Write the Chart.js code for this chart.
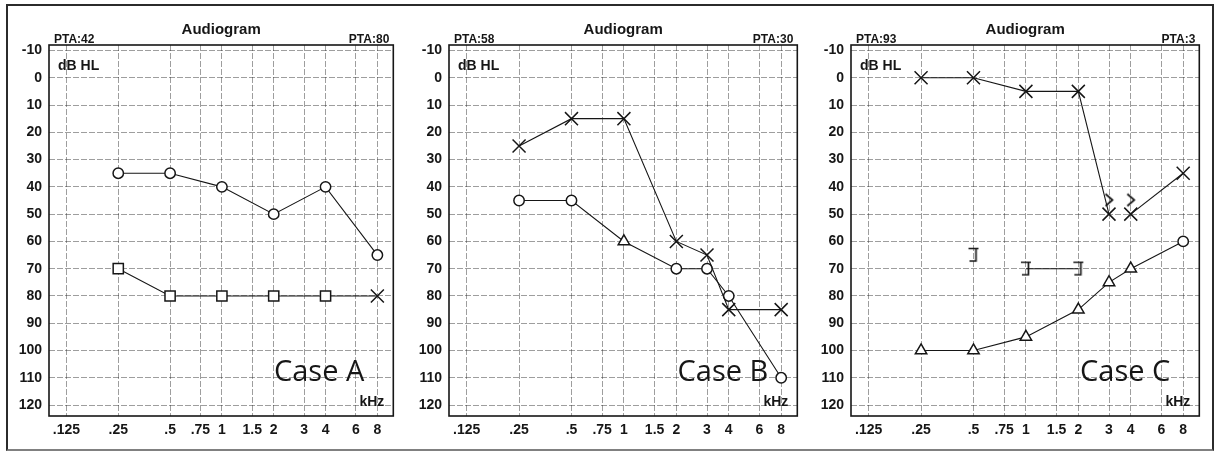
<!DOCTYPE html>
<html>
<head>
<meta charset="utf-8">
<title>Audiograms</title>
<script src="https://cdn.jsdelivr.net/npm/chart.js@4.4.0/dist/chart.umd.min.js"></script>
<style>
  html, body { margin: 0; padding: 0; background: #fff; }
  #page { position: relative; width: 1215px; height: 453px; overflow: hidden; }
  #frame {
    position: absolute; left: 6px; top: 4px; width: 1208px; height: 447px;
    box-sizing: border-box; border: 2px solid #2b2b2b; border-bottom-color: #808080;
  }
  canvas { position: absolute; top: 6px; }
</style>
</head>
<body>
<div id="page">
  <div id="frame"></div>
  <canvas id="case-a" width="396" height="440" style="left:8px"></canvas>
  <canvas id="case-b" width="402" height="440" style="left:406px"></canvas>
  <canvas id="case-c" width="402" height="440" style="left:808px"></canvas>
</div>
<script>
/* ----------------------------
   AXES (shared by all three audiograms)
   ---------------------------- */
var FREQ_TICKS  = [0.125, 0.25, 0.5, 0.75, 1, 1.5, 2, 3, 4, 6, 8];
var FREQ_LABELS = [".125", ".25", ".5", ".75", "1", "1.5", "2", "3", "4", "6", "8"];
var DB_TICKS    = [-10, 0, 10, 20, 30, 40, 50, 60, 70, 80, 90, 100, 110, 120];

/* ----------------------------
   CASE A
   ---------------------------- */
var A_FREQS     = [0.25, 0.5, 1, 2, 4, 8];
var A_RIGHT_AIR = [35, 35, 40, 50, 40, 65];
var A_MASKED    = [70, 80, 80, 80, 80, 80];
var A_MASKED_MARKS = ["rect", "rect", "rect", "rect", "rect", "crossRot"];
var A_PTA = ["PTA:42", "PTA:80"];

/* ----------------------------
   CASE B
   ---------------------------- */
var B_FREQS    = [0.25, 0.5, 1, 2, 3, 4, 8];
var B_LEFT_AIR = [25, 15, 15, 60, 65, 85, 85];
var B_RIGHT    = [45, 45, 60, 70, 70, 80, 110];
var B_RIGHT_MARKS = ["circle", "circle", "triangle", "circle", "circle", "circle", "circle"];
var B_PTA = ["PTA:58", "PTA:30"];

/* ----------------------------
   CASE C
   ---------------------------- */
var C_FREQS    = [0.25, 0.5, 1, 2, 3, 4, 8];
var C_LEFT_AIR = [0, 0, 5, 5, 50, 50, 35];
var C_LEFT_AIR_GAPS = [4];            // no line between 3 and 4 kHz
var C_BONE_FREQS = [3, 4];
var C_LEFT_BONE  = [45, 45];
var C_MASKED_BONE_FREQS = [0.5, 1, 2];
var C_MASKED_BONE = [65, 70, 70];
var C_MASKED_BONE_GAPS = [0];         // .5 kHz stands alone
var C_RIGHT = [100, 100, 95, 85, 75, 70, 60];
var C_RIGHT_MARKS = ["triangle", "triangle", "triangle", "triangle", "triangle", "triangle", "circle"];
var C_PTA = ["PTA:93", "PTA:3"];

var INK = "#161616";
var GRID = "rgba(40, 40, 40, 0.45)";
var SANS = "'Liberation Sans', Arial, sans-serif";

Chart.defaults.font.family = SANS;
Chart.defaults.color = INK;

// marker radius for each built-in point style
var MARK_SIZE = { circle: 5.2, rect: 7.2, crossRot: 9.2, triangle: 6.6 };

/* ----------------------------
   Hand-drawn symbols: ">" and "]"
   ---------------------------- */
function makeGlyph(w, h, draw) {
  var c = document.createElement("canvas");
  c.width = w;
  c.height = h;
  var g = c.getContext("2d");
  g.strokeStyle = INK;
  g.lineWidth = 1.7;
  g.lineJoin = "miter";
  g.beginPath();
  draw(g);
  g.stroke();
  return c;
}

var boneGlyph = makeGlyph(12, 16, function (g) {
  g.moveTo(2.5, 1.5); g.lineTo(9.5, 7.5); g.lineTo(2.5, 13.5);
});

var bracketGlyph = makeGlyph(14, 16, function (g) {
  g.moveTo(2, 1.5); g.lineTo(12, 1.5);
  g.moveTo(9.5, 1.5); g.lineTo(9.5, 14);
  g.lineTo(3, 14);
});

/* ----------------------------
   Dataset helper
   ---------------------------- */
function series(freqs, values, marks, gaps, noLine) {
  var styles = Array.isArray(marks) ? marks : freqs.map(function () { return marks; });
  return {
    data: freqs.map(function (f, i) { return { x: f, y: values[i] }; }),
    showLine: !noLine,
    borderColor: INK,
    borderWidth: 1.1,
    pointStyle: styles,
    pointRadius: styles.map(function (s) { return MARK_SIZE[s] || 6; }),
    pointBackgroundColor: "#ffffff",
    pointBorderColor: INK,
    pointBorderWidth: 1.5,
    segment: {
      borderColor: function (ctx) {
        return gaps && gaps.indexOf(ctx.p0DataIndex) >= 0 ? "rgba(0,0,0,0)" : undefined;
      }
    }
  };
}

/* ----------------------------
   Frame, headings and labels drawn around each plot
   ---------------------------- */
var panelText = {
  id: "panelText",
  beforeDatasetsDraw: function (chart) {
    var ctx = chart.ctx, a = chart.chartArea;
    ctx.save();
    ctx.strokeStyle = INK;
    ctx.lineWidth = 1.6;
    ctx.strokeRect(a.left, a.top, a.right - a.left, a.bottom - a.top);
    ctx.restore();
  },
  afterDraw: function (chart, args, opts) {
    var ctx = chart.ctx, a = chart.chartArea;
    ctx.save();
    ctx.fillStyle = INK;
    ctx.textBaseline = "alphabetic";

    ctx.font = "bold 15px " + SANS;
    ctx.textAlign = "center";
    ctx.fillText("Audiogram", (a.left + a.right) / 2, a.top - 11);

    ctx.font = "bold 12px " + SANS;
    ctx.textAlign = "left";
    ctx.fillText(opts.pta[0], a.left + 5, a.top - 2);
    ctx.textAlign = "right";
    ctx.fillText(opts.pta[1], a.right - 4, a.top - 2);

    ctx.font = "bold 14px " + SANS;
    ctx.textAlign = "left";
    ctx.fillText("dB HL", a.left + 9, a.top + 25);
    ctx.textAlign = "right";
    ctx.fillText("kHz", a.right - 9, a.bottom - 10);

    ctx.font = "29px 'Open Sans', 'Noto Sans', sans-serif";
    ctx.textAlign = "right";
    ctx.fillText(opts.caseLabel, a.right - 29, a.bottom - 35);
    ctx.restore();
  }
};

function drawAudiogram(id, datasets, pta, caseLabel, padLeft, padRight) {
  var canvas = document.getElementById(id);
  if (!canvas) { return null; }

  return new Chart(canvas.getContext("2d"), {
    type: "scatter",
    data: { datasets: datasets },
    plugins: [panelText],
    options: {
      responsive: false,
      animation: false,
      events: [],
      layout: { padding: { top: 39, left: padLeft, right: padRight, bottom: 0 } },
      plugins: {
        legend: { display: false },
        tooltip: { enabled: false },
        panelText: { pta: pta, caseLabel: caseLabel }
      },
      scales: {
        x: {
          type: "logarithmic",
          min: 0.099,
          max: 9.9,
          afterBuildTicks: function (axis) {
            axis.ticks = FREQ_TICKS.map(function (v) { return { value: v }; });
          },
          afterFit: function (axis) { axis.height = 30; },
          grid: { color: GRID, lineWidth: 1, drawTicks: false },
          border: { display: false, dash: [6, 2] },
          ticks: {
            autoSkip: false,
            maxRotation: 0,
            minRotation: 0,
            padding: 6,
            color: INK,
            font: { size: 14, weight: "bold" },
            callback: function (v, i) { return FREQ_LABELS[i]; }
          }
        },
        y: {
          type: "linear",
          reverse: true,
          min: -12,
          max: 124,
          afterBuildTicks: function (axis) {
            axis.ticks = DB_TICKS.map(function (v) { return { value: v }; });
          },
          afterFit: function (axis) { axis.width = 41; },
          grid: { color: GRID, lineWidth: 1, drawTicks: false },
          border: { display: false, dash: [6, 2] },
          ticks: {
            padding: 7,
            color: INK,
            font: { size: 14, weight: "bold" }
          }
        }
      }
    }
  });
}

drawAudiogram("case-a", [
  series(A_FREQS, A_RIGHT_AIR, "circle"),
  series(A_FREQS, A_MASKED, A_MASKED_MARKS)
], A_PTA, "Case A", 0, 2);

drawAudiogram("case-b", [
  series(B_FREQS, B_LEFT_AIR, "crossRot"),
  series(B_FREQS, B_RIGHT, B_RIGHT_MARKS)
], B_PTA, "Case B", 2, 3);

var cBone = series(C_BONE_FREQS, C_LEFT_BONE, "bone", null, true);
cBone.pointStyle = boneGlyph;
var cMasked = series(C_MASKED_BONE_FREQS, C_MASKED_BONE, "bracket", C_MASKED_BONE_GAPS);
cMasked.pointStyle = bracketGlyph;

drawAudiogram("case-c", [
  series(C_FREQS, C_LEFT_AIR, "crossRot", C_LEFT_AIR_GAPS),
  cBone,
  cMasked,
  series(C_FREQS, C_RIGHT, C_RIGHT_MARKS)
], C_PTA, "Case C", 2, 4);
</script>
</body>
</html>
